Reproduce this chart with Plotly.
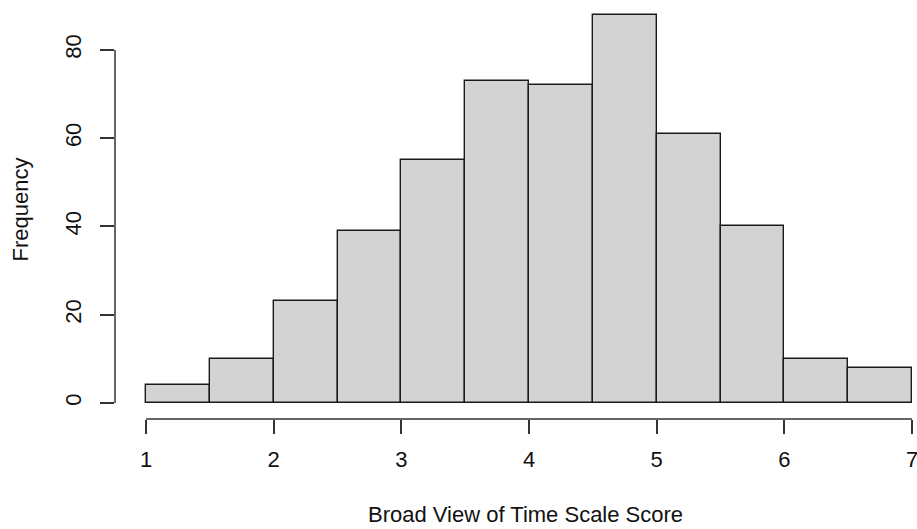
import plotly.graph_objects as go

bin_edges = [1.0, 1.5, 2.0, 2.5, 3.0, 3.5, 4.0, 4.5, 5.0, 5.5, 6.0, 6.5, 7.0]
counts = [4, 10, 23, 39, 55, 73, 72, 88, 61, 40, 10, 8]
x_ticks = [1, 2, 3, 4, 5, 6, 7]
y_ticks = [0, 20, 40, 60, 80]
x_title = "Broad View of Time Scale Score"
y_title = "Frequency"

mids = [(a + b) / 2 for a, b in zip(bin_edges[:-1], bin_edges[1:])]
widths = [b - a for a, b in zip(bin_edges[:-1], bin_edges[1:])]

FONT = "Liberation Sans, Arial, Helvetica, sans-serif"
AXC = "#333333"

fig = go.Figure()
fig.add_trace(go.Bar(
    x=mids, y=counts, width=widths,
    marker=dict(color="#D3D3D3", line=dict(color="#1a1a1a", width=1.4)),
    hoverinfo="x+y", showlegend=False,
))

fig.update_layout(
    width=917, height=529,
    margin=dict(l=115, r=0, t=0, b=110),
    paper_bgcolor="white", plot_bgcolor="white",
    font=dict(family=FONT, size=22, color="#111111"),
    bargap=0,
    xaxis=dict(
        range=[0.757, 7.039], tickvals=x_ticks, ticktext=[str(v) for v in x_ticks],
        showgrid=False, zeroline=False, showline=False,
        ticks="outside", ticklen=14, tickwidth=1.5, tickcolor=AXC,
        ticklabelstandoff=7, ticklabeloverflow="allow",
        automargin=False,
    ),
    yaxis=dict(
        range=[-3.62, 91.3], tickvals=y_ticks, ticktext=[str(v) for v in y_ticks],
        showgrid=False, zeroline=False, showline=False,
        ticks="outside", ticklen=14, tickwidth=1.5, tickcolor=AXC,
        tickangle=-90, ticklabelstandoff=10,
        title=dict(text=y_title, standoff=26, font=dict(size=22)),
        automargin=False,
    ),
)

# x-axis title centred under the tick span (as base R does for its plot region)
fig.add_annotation(
    text=x_title, xref="x", yref="paper",
    x=(min(x_ticks) + max(x_ticks)) / 2 - 0.025, y=0,
    yanchor="middle", xanchor="center", yshift=-95,
    showarrow=False, font=dict(size=22, family=FONT, color="#111111"),
)

# axis lines spanning only the tick range, as in base R graphics
fig.add_shape(type="line", xref="x", yref="paper",
              x0=min(x_ticks), x1=max(x_ticks), y0=0, y1=0,
              line=dict(color=AXC, width=1.5))
fig.add_shape(type="line", xref="paper", yref="y",
              x0=0, x1=0, y0=min(y_ticks), y1=max(y_ticks),
              line=dict(color=AXC, width=1.5))

fig.write_html(
    "out.html",
    config={"displayModeBar": False},
    post_script="document.body.style.margin='0';document.body.style.padding='0';document.body.style.overflow='hidden';",
)
